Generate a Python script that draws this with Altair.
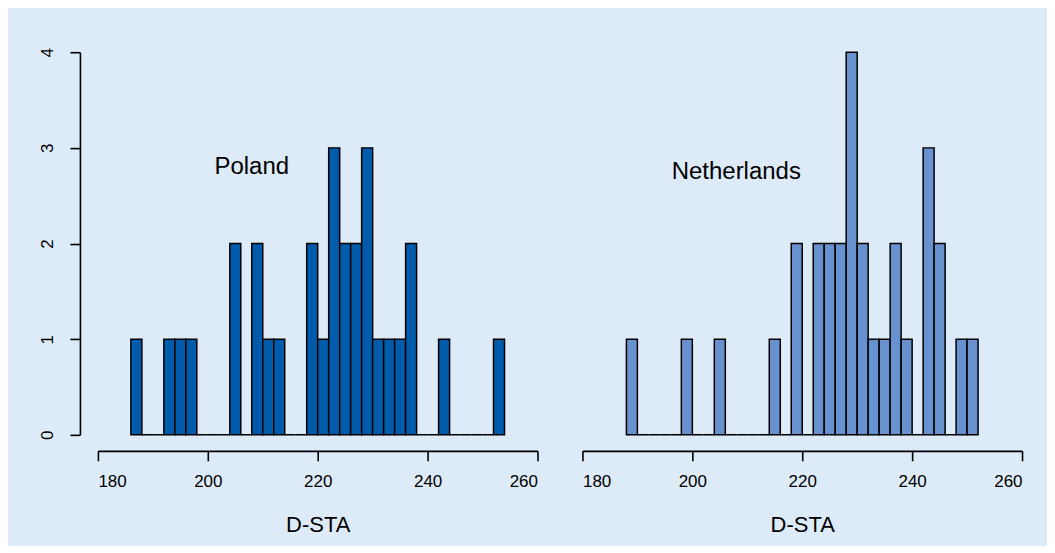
import altair as alt
import pandas as pd

# ---- data (bin width 2) ----
bin_width = 2
pl_start = [186, 188, 190, 192, 194, 196, 198, 200, 202, 204, 206, 208, 210, 212, 214, 216, 218,
            220, 222, 224, 226, 228, 230, 232, 234, 236, 238, 240, 242, 244, 246, 248, 250, 252]
pl_counts = [1, 0, 0, 1, 1, 1, 0, 0, 0, 2, 0, 2, 1, 1, 0, 0, 2,
             1, 3, 2, 2, 3, 1, 1, 1, 2, 0, 0, 1, 0, 0, 0, 0, 1]
nl_start = [188, 190, 192, 194, 196, 198, 200, 202, 204, 206, 208, 210, 212, 214, 216, 218,
            220, 222, 224, 226, 228, 230, 232, 234, 236, 238, 240, 242, 244, 246, 248, 250]
nl_counts = [1, 0, 0, 0, 0, 1, 0, 0, 1, 0, 0, 0, 0, 1, 0, 2,
             0, 2, 2, 2, 4, 2, 1, 1, 2, 1, 0, 3, 2, 0, 1, 1]

panel_labels = ["Poland", "Netherlands"]
label_x = [208, 208]
label_y = [2.8, 2.75]
colors = ["#005baa", "#6892cf"]
x_ticks = [180, 200, 220, 240, 260]
y_ticks = [0, 1, 2, 3, 4]
x_title = "D-STA"

FONT = "Liberation Sans"


def panel(starts, counts, color, label, lx, ly, show_y):
    df = pd.DataFrame({
        "start": starts,
        "end": [s + bin_width for s in starts],
        "count": counts,
        "base": [0] * len(starts),
    })
    xscale = alt.Scale(domain=[180, 260], nice=False, zero=False)
    yscale = alt.Scale(domain=[0, 4], nice=False)
    xaxis = alt.Axis(values=x_ticks, title=x_title, offset=16, tickSize=10,
                     labelPadding=13, titlePadding=25, grid=False,
                     labelFontSize=17, titleFontSize=22, titleFontWeight="normal",
                     format="d")
    if show_y:
        yaxis = alt.Axis(values=y_ticks, title=None, offset=18, tickSize=10,
                         labelPadding=17, labelAngle=270, labelAlign="center",
                         labelBaseline="alphabetic", grid=False, labelFontSize=17,
                         format="d")
    else:
        yaxis = None
    bars = alt.Chart(df).mark_rect(fill=color, stroke="black", strokeWidth=1.5).encode(
        x=alt.X("start:Q", scale=xscale, axis=xaxis),
        x2="end:Q",
        y=alt.Y("count:Q", scale=yscale, axis=yaxis),
        y2="base:Q",
    )
    tdf = pd.DataFrame({"x": [lx], "y": [ly], "t": [label]})
    text = alt.Chart(tdf).mark_text(fontSize=24, font=FONT, color="black",
                                    align="center", baseline="middle").encode(
        x=alt.X("x:Q", scale=xscale),
        y=alt.Y("y:Q", scale=yscale),
        text="t:N",
    )
    return alt.layer(bars, text).properties(width=440, height=383)


left = panel(pl_start, pl_counts, colors[0], panel_labels[0], label_x[0], label_y[0], True)
right = panel(nl_start, nl_counts, colors[1], panel_labels[1], label_x[1], label_y[1], False)

chart = alt.hconcat(left, right, spacing=45, bounds="flush").properties(
    padding={"left": 31, "top": 39, "right": 24, "bottom": 10},
    background="#ddeaf8",
).configure_view(stroke=None).configure_axis(
    labelFont=FONT, titleFont=FONT, labelColor="black", titleColor="black",
    domainColor="black", tickColor="black", domainWidth=1.6, tickWidth=1.6,
)

chart.save("out.html", embed_options={"renderer": "svg", "actions": False})
